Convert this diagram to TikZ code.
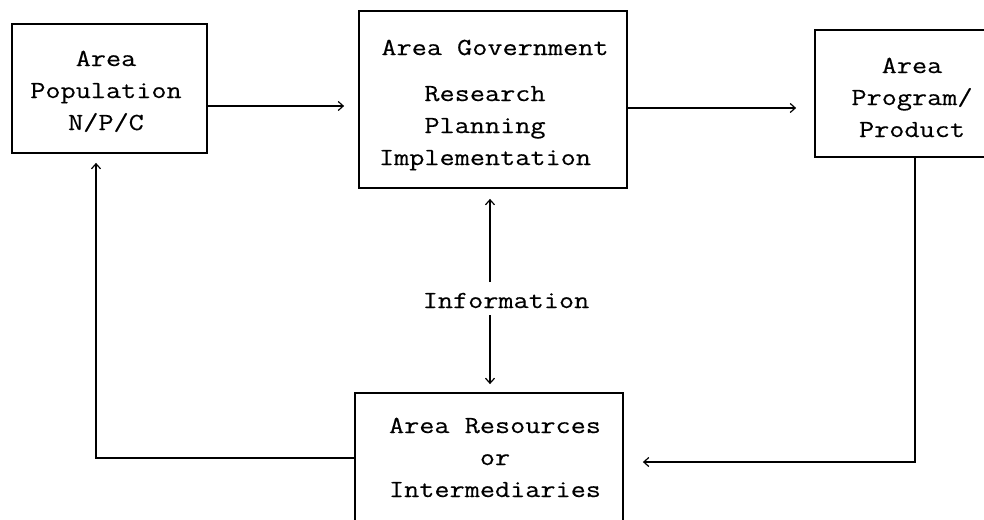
\documentclass[tikz,border=0pt]{standalone}
\usepackage{fontspec}
\newfontfamily\typewriter{Latin Modern Mono}[FakeStretch=1.2, FakeBold=0.35]
\usetikzlibrary{arrows.meta}
\begin{document}
\begin{tikzpicture}[x=1pt,y=-1pt,
  box/.style={draw, line width=1.8pt, inner sep=0pt},
  lbl/.style={font=\typewriter\fontsize{24.5}{32}\selectfont, align=center, inner sep=0pt, anchor=base},
  flow/.style={line width=1.5pt, -{Straight Barb[length=5pt,width=9pt,line width=1.2pt]}}]
\useasboundingbox (0,0) rectangle (984,519);
\clip (0,0) rectangle (984,519);
\fill[white] (0,0) rectangle (984,519);

% boxes
\node[box, minimum width=195pt, minimum height=129pt] (pop)  at (109.5,88.5) {};
\node[box, minimum width=268pt, minimum height=177pt] (gov)  at (493,99.5) {};
\node[box, minimum width=194pt, minimum height=127pt] (prog) at (912,93.5) {};
\node[box, minimum width=268pt, minimum height=170pt] (res)  at (489,478) {};

% box texts (anchored on the baseline of their last line)
\node[lbl] (popt)  at (106,130) {Area\\Population\\N/P/C};
\node[lbl] (govt)  at (495,165) {Area Government\\[14pt]\hspace*{-20pt}Research\\\hspace*{-20pt}Planning\\\hspace*{-20pt}Implementation};
\node[lbl] (progt) at (912,137) {Area\\Program/\\Product};
\node[lbl] (rest)  at (495,497) {Area Resources\\or\\Intermediaries};
\node[lbl] (info)  at (506,308) {Information};

% connectors
\draw[flow, shorten >=14pt] (pop.east |- 0,106) -- (gov.west |- 0,106);
\draw[flow, shorten >=18pt] (gov.east |- 0,108) -- (prog.west |- 0,108);
\draw[flow, shorten >=19pt] (prog.south -| 915,0) |- (res.east |- 0,462);
\draw[flow, shorten >=9pt]  (res.west |- 0,458) -| (pop.south -| 96,0);
\draw[flow, shorten >=10pt] (490,282) -- (gov.south -| 490,0);
\draw[flow, shorten >=8pt]  (490,315) -- (res.north -| 490,0);
\end{tikzpicture}
\end{document}
